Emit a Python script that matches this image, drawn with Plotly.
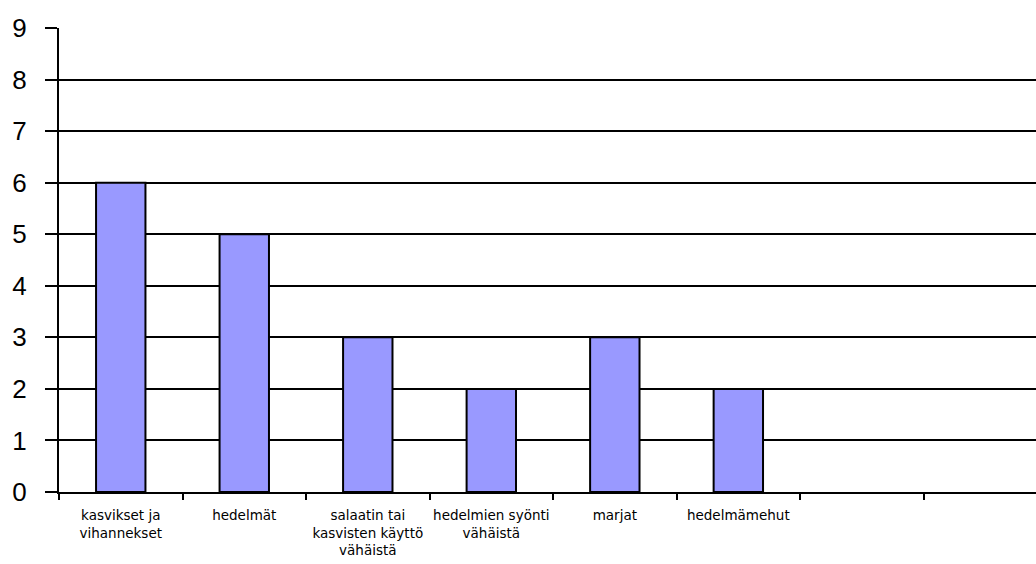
import plotly.graph_objects as go

categories = ["kasvikset ja<br>vihannekset", "hedelmät", "salaatin tai<br>kasvisten käyttö<br>vähäistä",
              "hedelmien syönti<br>vähäistä", "marjat", "hedelmämehut", " ", "  "]
values = [6, 5, 3, 2, 3, 2, None, None]
y_ticks = list(range(0, 10))

fig = go.Figure(go.Bar(
    x=categories, y=values, width=0.4,
    marker=dict(color="#9999FF", line=dict(color="black", width=2)),
))

fig.update_layout(
    width=1036, height=564,
    margin=dict(l=59, r=0, t=28, b=72),
    paper_bgcolor="white", plot_bgcolor="white",
    showlegend=False,
)
fig.update_xaxes(
    type="category", range=[-0.5, 7.41], automargin=False, tickangle=0,
    tickson="boundaries", ticks="outside", ticklen=6, tickwidth=2, tickcolor="black",
    showline=True, linecolor="black", linewidth=2, showgrid=False,
    ticklabelstandoff=10,
    tickfont=dict(family="DejaVu Sans", size=13.5, color="black"),
)
fig.update_yaxes(
    range=[0, 9], tickvals=y_ticks, ticks="outside", ticklen=12, tickwidth=2, tickcolor="black",
    showline=True, linecolor="black", linewidth=2, automargin=False,
    showgrid=True, gridcolor="black", gridwidth=2, zeroline=False,
    ticklabelstandoff=13,
    tickfont=dict(family="Liberation Sans", size=26, color="black"),
)

fig.write_html("out.html")
